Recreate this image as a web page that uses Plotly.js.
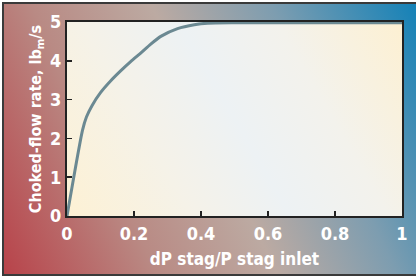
<!DOCTYPE html>
<html>
<head>
<meta charset="utf-8">
<script src="https://cdn.plot.ly/plotly-3.0.1.min.js"></script>
<style>
  html, body { margin: 0; padding: 0; background: #ffffff; width: 416px; height: 276px; overflow: hidden; }
  #frame {
    position: absolute; left: 2px; top: 2px; width: 420px; height: 270px;
    border: 2px solid #3a3a3a;
    background: linear-gradient(65deg, #b8434a 0%, #b98a84 28%, #bcaaa2 50%, #7d9db0 72%, #0e80b8 100%);
  }
  #plotbg {
    position: absolute; left: 67px; top: 22px; width: 335px; height: 194px;
    background: linear-gradient(60deg, #fdf1d4 0%, #f5f2e8 28%, #edf2f4 50%, #f3f2ec 72%, #fdf0d2 100%);
  }
  #chart { position: absolute; left: 0; top: 0; width: 416px; height: 276px; }
</style>
</head>
<body>
<div id="frame"></div>
<div id="plotbg"></div>
<div id="chart"></div>
<script>
const xValues = [0, 0.046, 0.058, 0.075, 0.1, 0.13, 0.16, 0.19, 0.22, 0.25, 0.28, 0.33, 0.38, 0.42, 0.5, 0.6, 0.7, 0.8, 0.9, 1.0];
const yValues = [0, 2.2, 2.55, 2.85, 3.18, 3.48, 3.74, 3.98, 4.2, 4.43, 4.63, 4.83, 4.93, 4.97, 4.98, 4.98, 4.98, 4.98, 4.98, 4.98];
const xTicks = [0, 0.2, 0.4, 0.6, 0.8, 1];
const xTickText = ['0', '0.2', '0.4', '0.6', '0.8', '1'];
const yTicks = [0, 1, 2, 3, 4, 5];
const yTickText = ['0', '1', '2', '3', '4', '5'];
const xTitle = 'dP stag/P stag inlet';
const yTitle = 'Choked-flow rate, lb<sub>m</sub>/s';

const fontFam = '"Liberation Sans Narrow", "DejaVu Sans Condensed", Arial, sans-serif';

const trace = {
  x: xValues, y: yValues, type: 'scatter', mode: 'lines',
  line: { color: '#6b8992', width: 3, shape: 'spline', smoothing: 0.6 },
  hoverinfo: 'skip'
};

const axisCommon = {
  showgrid: false, zeroline: false,
  showline: true, linecolor: '#222222', linewidth: 2, mirror: true,
  ticks: 'inside', ticklen: 5, tickwidth: 1.5, tickcolor: '#222222',
  tickfont: { family: fontFam, size: 18, color: '#ffffff', weight: 'bold' },
  fixedrange: true
};

const layout = {
  width: 416, height: 276,
  margin: { l: 67, r: 14, t: 22, b: 60 },
  paper_bgcolor: 'rgba(0,0,0,0)',
  plot_bgcolor: 'rgba(0,0,0,0)',
  showlegend: false,
  xaxis: Object.assign({}, axisCommon, {
    range: [0, 1], tickvals: xTicks, ticktext: xTickText,
    title: { text: xTitle, font: { family: fontFam, size: 17, color: '#ffffff', weight: 'bold' }, standoff: 11 }
  }),
  yaxis: Object.assign({}, axisCommon, {
    range: [0, 5], tickvals: yTicks, ticktext: yTickText,
    title: { text: yTitle, font: { family: fontFam, size: 16, color: '#ffffff', weight: 'bold' }, standoff: 5 }
  })
};

Plotly.newPlot('chart', [trace], layout, { staticPlot: true, displayModeBar: false });
</script>
</body>
</html>
